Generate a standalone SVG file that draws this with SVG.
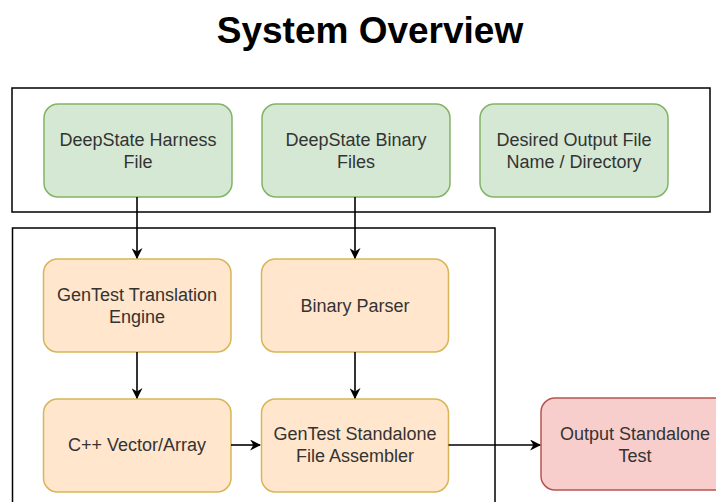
<svg xmlns="http://www.w3.org/2000/svg" width="716" height="502" viewBox="0 0 716 502">
<defs>
<style>
.title{font-family:"Liberation Sans",Arial,sans-serif;font-weight:bold;font-size:37px;fill:#000;text-anchor:middle}
.lbl{font-family:"Liberation Sans",Arial,sans-serif;font-size:18px;fill:#333;text-anchor:middle}
.cont{fill:none;stroke:#000;stroke-width:1.5}
.green{fill:#d5e8d4;stroke:#82b366;stroke-width:1.5}
.orange{fill:#ffe6cc;stroke:#d6b656;stroke-width:1.5}
.red{fill:#f8cecc;stroke:#b85450;stroke-width:1.5}
.edge{fill:none;stroke:#000;stroke-width:1.6;marker-end:url(#arr)}
</style>
<marker id="arr" viewBox="0 0 10 10" refX="9" refY="5" markerWidth="11" markerHeight="11" markerUnits="userSpaceOnUse" orient="auto">
<path d="M0,0 L10,5 L0,10 L3,5 Z" fill="#000"/>
</marker>
</defs>
<rect width="716" height="502" fill="#fff"/>
<text class="title" x="370" y="43">System Overview</text>
<g id="input-container"><rect class="cont" x="12" y="88" width="698" height="124"/></g>
<g id="core-container"><rect class="cont" x="12.5" y="228" width="482.5" height="290"/></g>
<g id="harness"><rect class="green" x="44" y="104" width="188" height="93" rx="14"/><text class="lbl" x="138" y="146">DeepState Harness</text><text class="lbl" x="138" y="168">File</text></g>
<g id="binaries"><rect class="green" x="262" y="104" width="188" height="93" rx="14"/><text class="lbl" x="356" y="146">DeepState Binary</text><text class="lbl" x="356" y="168">Files</text></g>
<g id="output-name"><rect class="green" x="480" y="104" width="188" height="93" rx="14"/><text class="lbl" x="574" y="146">Desired Output File</text><text class="lbl" x="574" y="168">Name / Directory</text></g>
<g id="translation"><rect class="orange" x="43.5" y="259" width="187.5" height="93" rx="14"/><text class="lbl" x="137" y="301">GenTest Translation</text><text class="lbl" x="137" y="323">Engine</text></g>
<g id="parser"><rect class="orange" x="261.5" y="259" width="187" height="93" rx="14"/><text class="lbl" x="355" y="312">Binary Parser</text></g>
<g id="vector"><rect class="orange" x="43.5" y="399" width="187.5" height="93" rx="14"/><text class="lbl" x="137" y="451">C++ Vector/Array</text></g>
<g id="assembler"><rect class="orange" x="261.5" y="399" width="187" height="93" rx="14"/><text class="lbl" x="355" y="440">GenTest Standalone</text><text class="lbl" x="355" y="462">File Assembler</text></g>
<g id="output-test"><rect class="red" x="541" y="398" width="188" height="92" rx="14"/><text class="lbl" x="635" y="440">Output Standalone</text><text class="lbl" x="635" y="462">Test</text></g>
<g id="connectors">
<path class="edge" d="M137,197 V258"/>
<path class="edge" d="M355,197 V258"/>
<path class="edge" d="M137,352 V398"/>
<path class="edge" d="M355,352 V398"/>
<path class="edge" d="M231,445 H260"/>
<path class="edge" d="M448.5,445 H540"/>
</g>
</svg>
